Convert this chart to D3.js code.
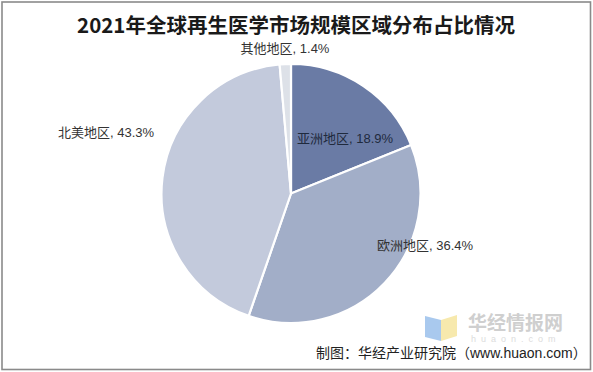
<!DOCTYPE html>
<html>
<head>
<meta charset="utf-8">
<script src="https://cdn.jsdelivr.net/npm/d3@7"></script>
<style>
  html, body { margin: 0; padding: 0; background: #fff; }
  svg { display: block; }
</style>
</head>
<body>
<svg id="chart" width="593" height="372"></svg>
<script>
// Regional share of the 2021 global regenerative medicine market (%)
const regions = ["亚洲地区", "欧洲地区", "北美地区", "其他地区"];
const shares = [18.9, 36.4, 43.3, 1.4];
const sliceColors = ["#6a7ba5", "#a2aec8", "#c3cadc", "#dde1e8"];

const titleText = "2021年全球再生医学市场规模区域分布占比情况";
const sourceText = "制图：华经产业研究院（www.huaon.com）";

// Label anchor points (layout only)
const labelAnchors = [[345, 138], [425, 245], [106, 132], [285, 48.5]];

const W = 593, H = 372;
const cx = 291, cy = 193.5, R = 129.5;
const svg = d3.select("#chart");

svg.append("rect").attr("width", W).attr("height", H).attr("fill", "#fff");
svg.append("rect")
  .attr("x", 2).attr("y", 2).attr("width", W - 4.5).attr("height", H - 4.5)
  .attr("fill", "none").attr("stroke", "#8a8a8a").attr("stroke-width", 1.6);

svg.append("text")
  .attr("x", 296).attr("y", 33)
  .attr("text-anchor", "middle")
  .attr("font-family", "'Noto Sans CJK SC', 'Liberation Serif', serif")
  .attr("font-weight", "bold")
  .attr("font-size", 20.5)
  .attr("fill", "#1a1a1a")
  .text(titleText);

const data = regions.map((r, i) => ({ region: r, share: shares[i], color: sliceColors[i] }));

const pie = d3.pie().sort(null).value(d => d.share).startAngle(0).endAngle(2 * Math.PI);
const arc = d3.arc().innerRadius(0).outerRadius(R);

const g = svg.append("g").attr("transform", `translate(${cx},${cy})`);
g.selectAll("path")
  .data(pie(data))
  .join("path")
  .attr("d", arc)
  .attr("fill", d => d.data.color)
  .attr("stroke", "#fff")
  .attr("stroke-width", 2.2)
  .attr("stroke-linejoin", "round");

svg.selectAll("text.lbl")
  .data(data)
  .join("text")
  .attr("class", "lbl")
  .attr("x", (d, i) => labelAnchors[i][0])
  .attr("y", (d, i) => labelAnchors[i][1])
  .attr("dy", "0.35em")
  .attr("text-anchor", "middle")
  .attr("font-family", "'Liberation Sans', 'Noto Sans CJK SC', sans-serif")
  .attr("font-size", 13)
  .attr("fill", (d, i) => i === 0 ? "#1f2a3d" : "#333")
  .text(d => `${d.region}, ${d.share.toFixed(1)}%`);

// Publisher mark
const wm = svg.append("g");
wm.append("path")
  .attr("d", "M425,316 L441,320 L441,341 L425,337 Z")
  .attr("fill", "#a9c9ee");
wm.append("path")
  .attr("d", "M441,320 L457,315 L457,336 L441,341 Z")
  .attr("fill", "#f7e9ad");
wm.append("text")
  .attr("x", 468).attr("y", 330)
  .attr("font-family", "'Noto Sans CJK SC', sans-serif")
  .attr("font-weight", "bold")
  .attr("font-size", 19)
  .attr("fill", "#cfcfcf")
  .text("华经情报网");
wm.append("text")
  .attr("x", 471).attr("y", 342)
  .attr("font-family", "'Liberation Sans', sans-serif")
  .attr("font-size", 9)
  .attr("letter-spacing", 5)
  .attr("fill", "#dcdcdc")
  .text("huaon.com");

svg.append("text")
  .attr("x", 316).attr("y", 358)
  .attr("font-family", "'Liberation Sans', 'Noto Sans CJK SC', sans-serif")
  .attr("font-size", 14)
  .attr("fill", "#222")
  .text(sourceText);
</script>
</body>
</html>
